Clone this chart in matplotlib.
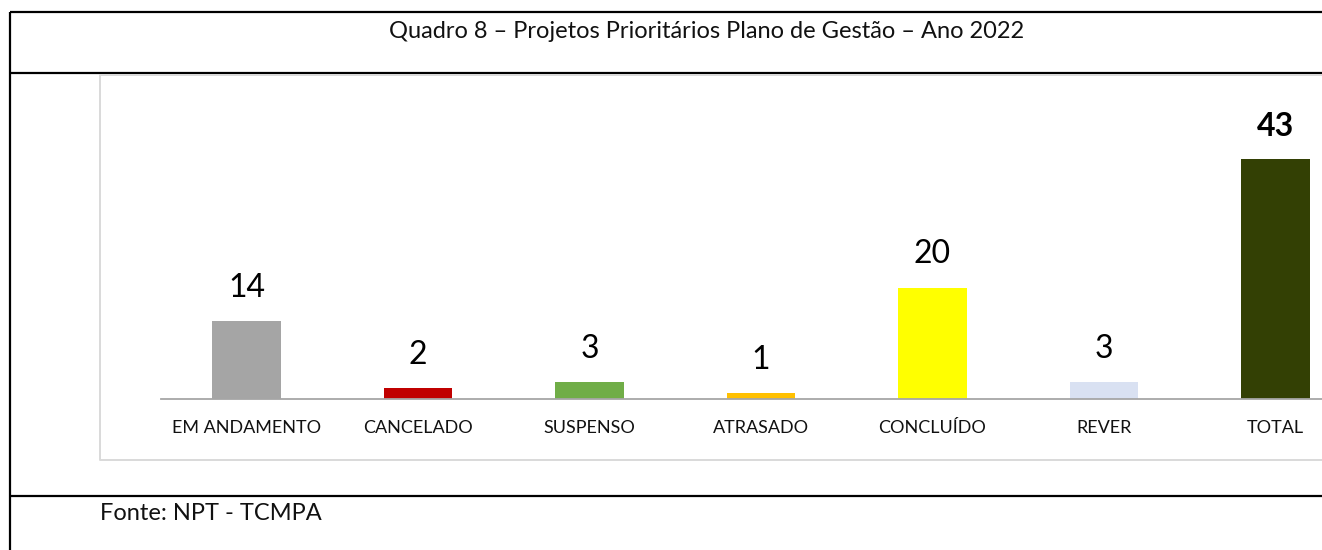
import matplotlib
matplotlib.use("Agg")
import matplotlib.pyplot as plt

plt.rcParams["font.family"] = ["Lato", "DejaVu Sans"]

categories = ["EM ANDAMENTO", "CANCELADO", "SUSPENSO", "ATRASADO", "CONCLUÍDO", "REVER", "TOTAL"]
values = [14, 2, 3, 1, 20, 3, 43]
colors = ["#A5A5A5", "#C00000", "#70AD47", "#FFC000", "#FFFF00", "#D9E1F2", "#334004"]
title = "Quadro 8 – Projetos Prioritários Plano de Gestão – Ano 2022"
source = "Fonte: NPT - TCMPA"

W, H = 1322, 550
fig = plt.figure(figsize=(W / 100, H / 100), dpi=100)

# background layer in pixel coordinates for the table frame
bg = fig.add_axes((0, 0, 1, 1))
bg.set_xlim(0, W)
bg.set_ylim(H, 0)
bg.axis("off")
for y in (12, 73, 496):
    bg.plot([10, W], [y, y], color="black", lw=1.6, solid_capstyle="butt")
bg.plot([10, 10], [12, H], color="black", lw=1.6, solid_capstyle="butt")
# light grey chart frame
bg.plot([100, 100, W], [75, 460, 460], color="#D9D9D9", lw=1.4)
bg.plot([100, W], [75, 75], color="#D9D9D9", lw=1.4)
bg.text(707, 32, title, ha="center", va="center", fontsize=17, color="#111111")
bg.text(100, 513, source, ha="left", va="center", fontsize=17, color="#111111")

# bar chart; extends past the right edge like the original
ymax = 50
px_per_unit = 78 / 14
ax = fig.add_axes((161 / W, (H - 399) / H, 1200 / W, ymax * px_per_unit / H))
ax.patch.set_alpha(0)
x = range(len(categories))
ax.bar(x, values, width=0.4, color=colors, zorder=2)
ax.set_xlim(-0.5, len(categories) - 0.5)
ax.set_ylim(0, ymax)
for s in ("top", "right", "left"):
    ax.spines[s].set_visible(False)
ax.spines["bottom"].set_color("#A6A6A6")
ax.spines["bottom"].set_linewidth(1.3)
ax.set_yticks([])
ax.set_xticks(list(x))
ax.set_xticklabels(categories, fontsize=13, color="#111111")
ax.tick_params(axis="x", length=0, pad=15)

for i, v in enumerate(values):
    bold = categories[i] == "TOTAL"
    ax.annotate(str(v), (i, v), xytext=(0, 24), textcoords="offset points",
                ha="center", va="center", fontsize=23,
                fontweight="bold" if bold else "normal", color="black")

fig.savefig("out.png", dpi=100)
